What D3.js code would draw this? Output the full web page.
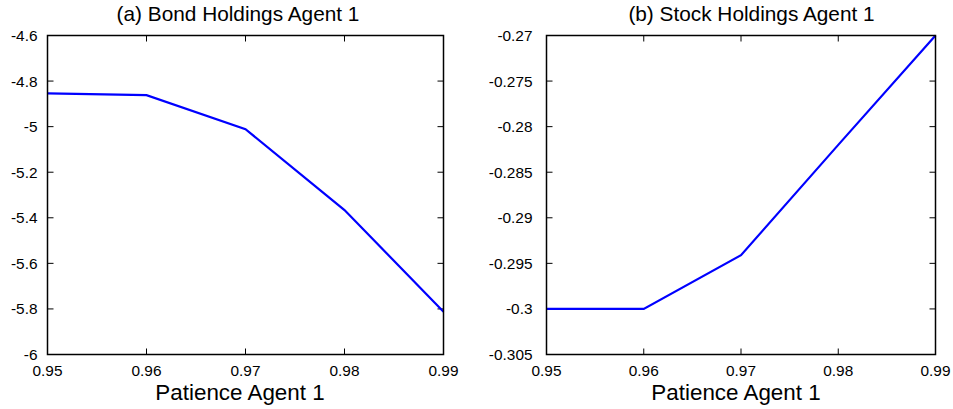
<!DOCTYPE html>
<html><head><meta charset="utf-8">
<script src="https://cdn.jsdelivr.net/npm/d3@7"></script>
<style>body{margin:0;background:#fff;} svg{display:block;font-family:"Liberation Sans",Arial,sans-serif;}</style>
</head><body>
<svg id="c" width="953" height="409"></svg>
<script>
const patience = [0.95, 0.96, 0.97, 0.98, 0.99];
const bondHoldings = [-4.854, -4.862, -5.011, -5.366, -5.812];
const stockHoldings = [-0.3, -0.3, -0.2941, -0.2820, -0.27];
const xTicks = [0.95, 0.96, 0.97, 0.98, 0.99];
const bondTicks = [-4.6, -4.8, -5, -5.2, -5.4, -5.6, -5.8, -6];
const stockTicks = [-0.27, -0.275, -0.28, -0.285, -0.29, -0.295, -0.3, -0.305];
const titles = ["(a) Bond Holdings Agent 1", "(b) Stock Holdings Agent 1"];
const xLabel = "Patience Agent 1";

const svg = d3.select("#c");
const panels = [
  {left: 47.5, right: 443.5, vals: bondHoldings, ticks: bondTicks, dom: [-6, -4.6], title: titles[0],
   titleX: 238, labelX: 240, yLabOff: 10},
  {left: 546.5, right: 935.5, vals: stockHoldings, ticks: stockTicks, dom: [-0.305, -0.27], title: titles[1],
   titleX: 751.5, labelX: 736, yLabOff: 14}
];
const plotTop = 35.5, plotBottom = 354.5;

panels.forEach(p => {
  const x = d3.scaleLinear().domain([0.95, 0.99]).range([p.left, p.right]);
  const y = d3.scaleLinear().domain(p.dom).range([plotBottom, plotTop]);
  const g = svg.append("g");
  const tl = 6;
  xTicks.forEach(t => {
    g.append("line").attr("x1", x(t)).attr("x2", x(t)).attr("y1", plotBottom).attr("y2", plotBottom - tl).attr("stroke", "#000");
    g.append("line").attr("x1", x(t)).attr("x2", x(t)).attr("y1", plotTop).attr("y2", plotTop + tl).attr("stroke", "#000");
    g.append("text").attr("x", x(t)).attr("y", 376).attr("text-anchor", "middle")
      .attr("font-size", 15.4).text(t.toFixed(2));
  });
  p.ticks.forEach(t => {
    g.append("line").attr("x1", p.left).attr("x2", p.left + tl).attr("y1", y(t)).attr("y2", y(t)).attr("stroke", "#000");
    g.append("line").attr("x1", p.right).attr("x2", p.right - tl).attr("y1", y(t)).attr("y2", y(t)).attr("stroke", "#000");
    g.append("text").attr("x", p.left - p.yLabOff).attr("y", y(t) + 5.5).attr("text-anchor", "end")
      .attr("font-size", 15.4).text(String(t));
  });
  const line = d3.line().x((d, i) => x(patience[i])).y(d => y(d));
  g.append("path").datum(p.vals).attr("d", line).attr("fill", "none").attr("stroke", "#0000ff").attr("stroke-width", 2.2);
  g.append("rect").attr("x", p.left).attr("y", plotTop).attr("width", p.right - p.left).attr("height", plotBottom - plotTop)
    .attr("fill", "none").attr("stroke", "#000").attr("stroke-width", 1.5);
  g.append("text").attr("x", p.titleX).attr("y", 21).attr("text-anchor", "middle")
    .attr("font-size", 20.8).text(p.title);
  g.append("text").attr("x", p.labelX).attr("y", 400).attr("text-anchor", "middle")
    .attr("font-size", 22.4).text(xLabel);
});
</script>
</body></html>
